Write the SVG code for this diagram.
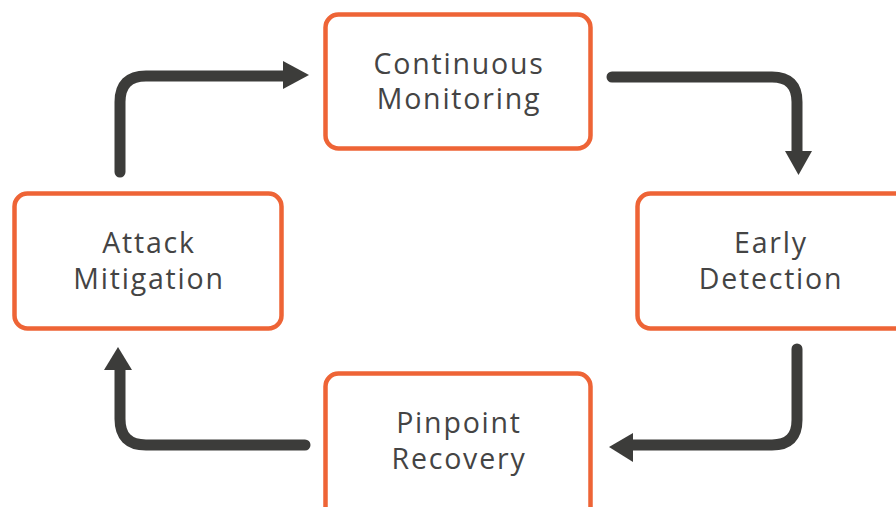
<svg xmlns="http://www.w3.org/2000/svg" width="896" height="507" viewBox="0 0 896 507">
<style>
.box{fill:#fff;stroke:#EE6436;stroke-width:4.5}
.lbl{font-family:"Open Sans","Liberation Sans",sans-serif;font-size:28.5px;fill:#444;text-anchor:middle;letter-spacing:1.8px}
.conn{fill:none;stroke:#3c3c3a;stroke-width:11;stroke-linecap:round;stroke-linejoin:round}
.head{fill:#3c3c3a}
</style>
<rect width="896" height="507" fill="#fff"/>
<g id="connectors">
<path class="conn" d="M120,172 V102 Q120,76 146,76 H286"/>
<polygon class="head" points="283,61 309,75 283,89"/>
<path class="conn" d="M612,77 H772 Q797,77 797,102 V156"/>
<polygon class="head" points="785,151 812,151 798.5,175"/>
<path class="conn" d="M797,349 V420 Q797,445 772,445 H630"/>
<polygon class="head" points="633,433 609,447 633,462"/>
<path class="conn" d="M305,445 H146 Q120,445 120,419 V368"/>
<polygon class="head" points="104,370 132,370 118,347"/>
</g>
<g id="n-monitoring">
<rect class="box" x="325.5" y="14.5" width="265" height="134" rx="13"/>
<text class="lbl" x="459" y="74">Continuous</text>
<text class="lbl" x="459" y="109">Monitoring</text>
</g>
<g id="n-detection">
<rect class="box" x="637.5" y="193.5" width="270" height="135" rx="13"/>
<text class="lbl" x="771" y="253">Early</text>
<text class="lbl" x="771" y="289">Detection</text>
</g>
<g id="n-recovery">
<rect class="box" x="325.5" y="373.5" width="265" height="150" rx="13"/>
<text class="lbl" x="459" y="433">Pinpoint</text>
<text class="lbl" x="459" y="469">Recovery</text>
</g>
<g id="n-mitigation">
<rect class="box" x="14.5" y="193.5" width="267" height="135" rx="13"/>
<text class="lbl" x="149" y="253">Attack</text>
<text class="lbl" x="149" y="289">Mitigation</text>
</g>
</svg>
